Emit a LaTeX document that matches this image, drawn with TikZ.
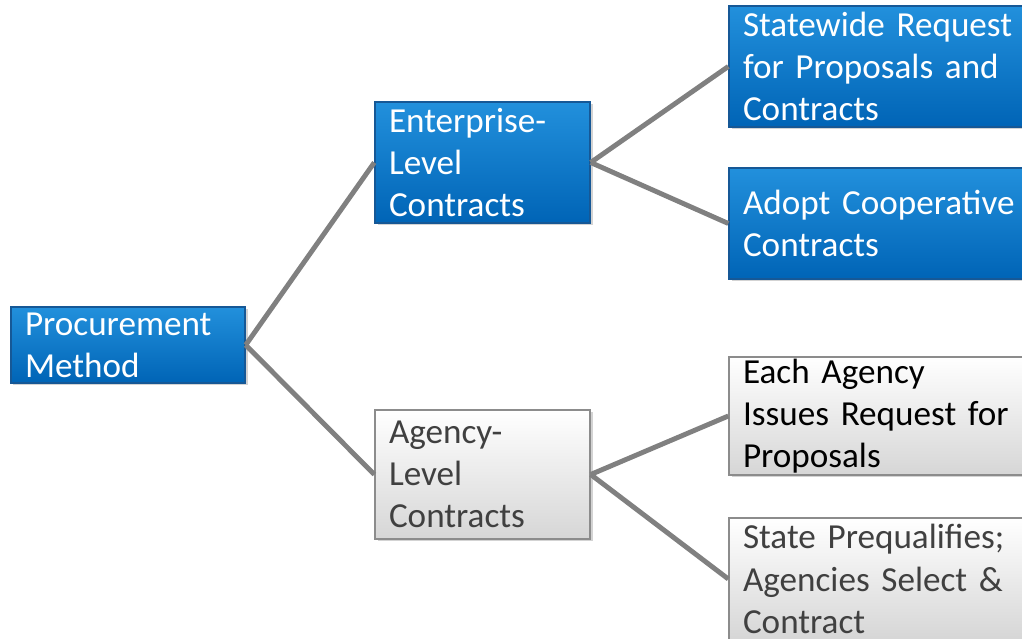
\documentclass[tikz,border=0pt]{standalone}
\usepackage{fontspec}
\setmainfont{Carlito}
\usetikzlibrary{shadows}
\definecolor{boxblueA}{RGB}{34,144,220}
\definecolor{boxblueB}{RGB}{0,100,182}
\definecolor{boxblueline}{RGB}{22,88,150}
\definecolor{boxgreyA}{RGB}{255,255,255}
\definecolor{boxgreyB}{RGB}{214,214,214}
\definecolor{boxgreyline}{RGB}{140,140,140}
\definecolor{linkgrey}{RGB}{128,128,128}
\definecolor{textgrey}{RGB}{64,64,64}
\begin{document}
\begin{tikzpicture}[
    box/.style={inner xsep=0.14cm, inner ysep=0pt, align=left, font=\fontsize{10}{12}\selectfont,
      drop shadow={opacity=0.35, shadow xshift=0.025cm, shadow yshift=-0.025cm}},
    bluebox/.style={box, draw=boxblueline, top color=boxblueA, bottom color=boxblueB, text=white},
    greybox/.style={box, draw=boxgreyline, top color=boxgreyA, bottom color=boxgreyB, text=textgrey},
    link/.style={draw=linkgrey, line width=1.4pt}]
    \clip (0,0) rectangle (10.22,6.38);
    \node[bluebox, minimum width=2.34cm, minimum height=0.76cm, text width=2.06cm] (proc) at (1.28,2.93) {Procurement\\Method};
    \node[bluebox, minimum width=2.15cm, minimum height=1.21cm, text width=1.87cm] (ent) at (4.825,4.755) {Enterprise-\\Level\\Contracts};
    \node[greybox, minimum width=2.15cm, minimum height=1.29cm, text width=1.87cm] (agen) at (4.825,1.635) {Agency-\\Level\\Contracts};
    \node[bluebox, minimum width=3.2cm, minimum height=1.21cm, text width=2.92cm] (swrfp) at (8.89,5.715) {Statewide Request\\for Proposals and\\Contracts};
    \node[bluebox, minimum width=3.2cm, minimum height=1.11cm, text width=2.92cm] (coop) at (8.89,4.145) {Adopt Cooperative\\Contracts};
    \node[greybox, text=black, minimum width=3.2cm, minimum height=1.18cm, text width=2.92cm] (eachrfp) at (8.89,2.22) {Each Agency\\Issues Request for\\Proposals};
    \node[greybox, minimum width=3.2cm, minimum height=1.22cm, text width=2.92cm] (preq) at (8.89,0.59) {State Prequalifies;\\Agencies Select \&\\Contract};
    \draw[link] (proc.east) -- (ent.west);
    \draw[link] (proc.east) -- (agen.west);
    \draw[link] (ent.east) -- (swrfp.west);
    \draw[link] (ent.east) -- (coop.west);
    \draw[link] (agen.east) -- (eachrfp.west);
    \draw[link] (agen.east) -- (preq.west);
\end{tikzpicture}
\end{document}
